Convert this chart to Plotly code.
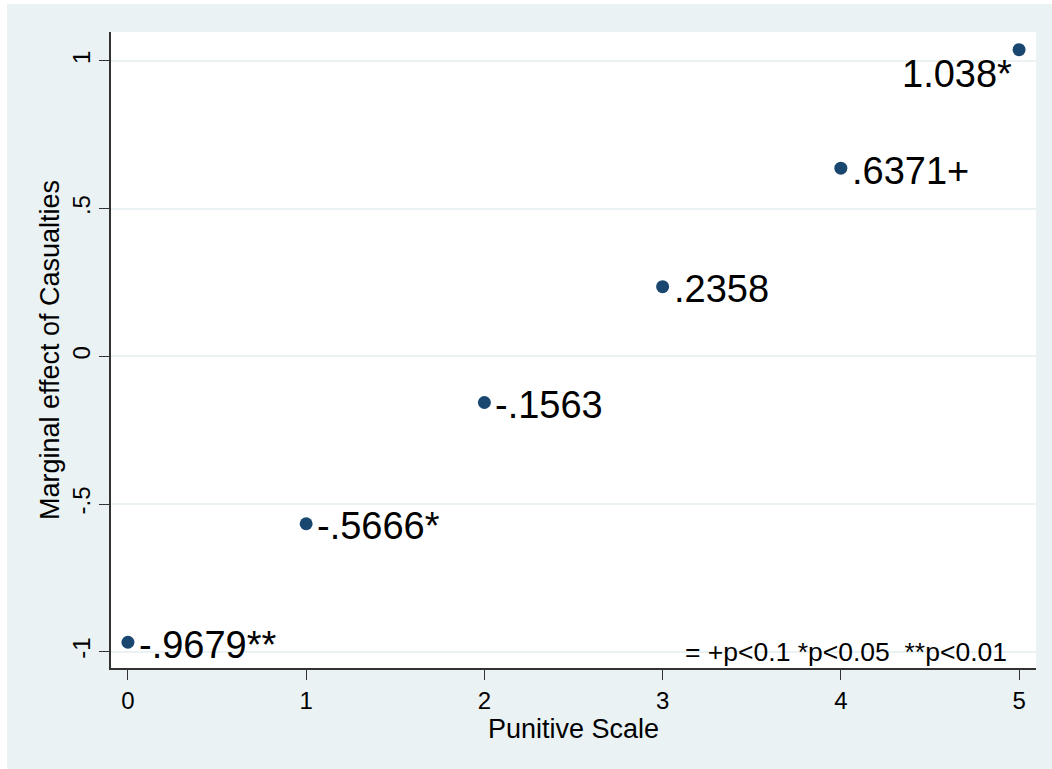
import plotly.graph_objects as go

# Data
punitive_scale = [0, 1, 2, 3, 4, 5]
marginal_effect = [-0.9679, -0.5666, -0.1563, 0.2358, 0.6371, 1.038]
point_labels = ["-.9679**", "-.5666*", "-.1563", ".2358", ".6371+", "1.038*"]
label_sides = ["right", "right", "right", "right", "right", "below-left"]
y_tick_vals = [-1, -0.5, 0, 0.5, 1]
y_tick_text = ["-1", "-.5", "0", ".5", "1"]
x_tick_vals = [0, 1, 2, 3, 4, 5]
note_text = "= +p<0.1 *p<0.05 \u00a0**p<0.01"

FONT = "Liberation Sans, Arial, sans-serif"
BG = "#EAF2F3"
NAVY = "#1A476F"

fig = go.Figure()
fig.add_trace(go.Scatter(
    x=punitive_scale, y=marginal_effect,
    mode="markers",
    marker=dict(color=NAVY, size=13),
    showlegend=False,
    cliponaxis=False,
))

for xv, yv, lab, side in zip(punitive_scale, marginal_effect, point_labels, label_sides):
    if side == "right":
        fig.add_annotation(x=xv, y=yv, xref="x", yref="y", text=lab,
                           showarrow=False, xanchor="left", yanchor="middle",
                           xshift=9, yshift=-2.5,
                           font=dict(family=FONT, size=38, color="black"))
    else:
        fig.add_annotation(x=xv, y=yv, xref="x", yref="y", text=lab,
                           showarrow=False, xanchor="right", yanchor="top",
                           xshift=-5, yshift=-1.5,
                           font=dict(family=FONT, size=38, color="black"))

fig.add_annotation(
    x=(846 - 111) / 925, xref="paper", y=-1.0, yref="y",
    text=note_text, showarrow=False,
    font=dict(family=FONT, size=26.5, color="black"),
    xanchor="center", yanchor="middle",
)

# thin white strips at top and left edges of the figure
fig.add_shape(type="rect", xref="paper", yref="paper",
              x0=-0.2, x1=(7 - 111) / 925, y0=-0.2, y1=1.2,
              fillcolor="white", line_width=0, layer="below")
fig.add_shape(type="rect", xref="paper", yref="paper",
              x0=-0.2, x1=1.2, y0=1 + (32 - 4) / 636, y1=1.2,
              fillcolor="white", line_width=0, layer="below")

fig.update_layout(
    width=1052, height=769,
    margin=dict(l=111, r=16, t=32, b=101),
    paper_bgcolor=BG, plot_bgcolor="white",
    font=dict(family=FONT, color="black"),
    xaxis=dict(
        range=[-0.095, 5.095],
        tickvals=x_tick_vals,
        ticks="outside", ticklen=10, tickcolor="#333333", tickwidth=1.3,
        tickfont=dict(size=24),
        showgrid=False, zeroline=False,
        showline=True, linecolor="#333333", linewidth=1.5,
        title=dict(text="Punitive Scale", font=dict(size=27), standoff=1),
    ),
    yaxis=dict(
        range=[-1.055, 1.098],
        tickvals=y_tick_vals, ticktext=y_tick_text,
        tickangle=-90,
        ticks="outside", ticklen=10, tickcolor="#333333", tickwidth=1.3,
        tickfont=dict(size=24),
        showgrid=True, gridcolor=BG, gridwidth=2,
        zeroline=False,
        showline=True, linecolor="#333333", linewidth=1.5,
        title=dict(text="Marginal effect of Casualties", font=dict(size=27), standoff=0),
    ),
)

fig.write_html(
    "out.html",
    config={"displayModeBar": False},
    post_script=("document.body.style.margin='0';"
                 "document.body.style.overflow='hidden';"
                 "document.body.style.background='" + BG + "';"),
)
